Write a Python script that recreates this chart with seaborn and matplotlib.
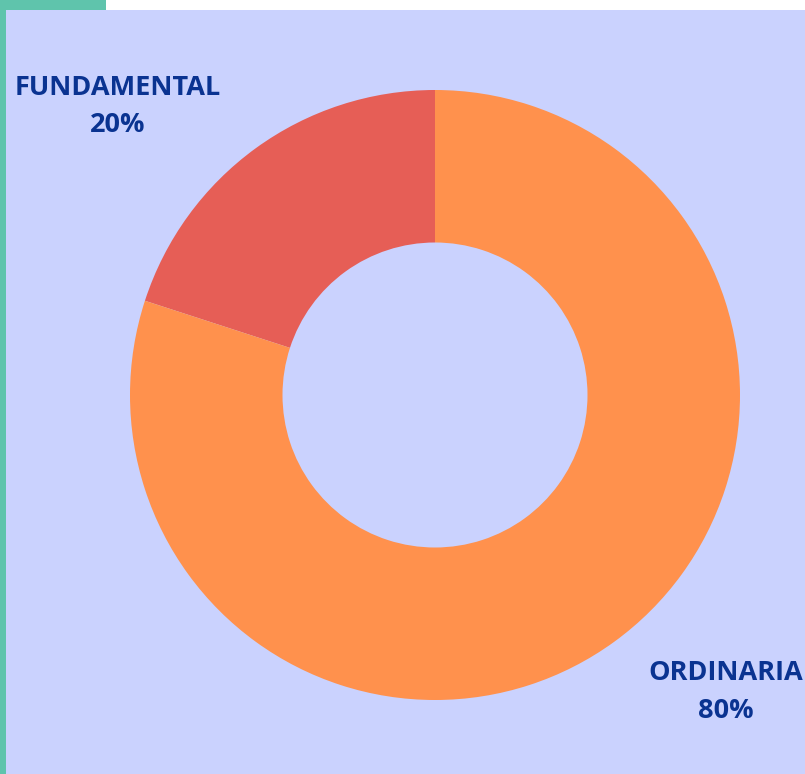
import matplotlib
matplotlib.use("Agg")
import matplotlib.pyplot as plt
import seaborn as sns
from matplotlib.patches import Rectangle

# Distribución por tipo
labels = ['FUNDAMENTAL', 'ORDINARIA']
values = [20, 80]
colors = ['#E65E56', '#FF914D']

sns.set_theme(style='white')
plt.rcParams['font.family'] = ['Open Sans', 'DejaVu Sans']

W, H = 805, 774
fig = plt.figure(figsize=(W / 100, H / 100), dpi=100, facecolor='white')

# background panels (pixel coords, from top)
bg = fig.add_axes([0, 0, 1, 1], zorder=-1)
bg.set_xlim(0, W)
bg.set_ylim(H, 0)
bg.axis('off')
bg.add_patch(Rectangle((0, 0), 106, H, facecolor='#5FC4AC', edgecolor='none'))
bg.add_patch(Rectangle((6, 10), W - 6, H - 10, facecolor='#CAD2FE', edgecolor='none'))

cx, cy, r = 435, 395, 305
ax = fig.add_axes([(cx - r) / W, (H - cy - r) / H, 2 * r / W, 2 * r / H], zorder=1)
ax.set_facecolor('none')
ax.pie(values, colors=colors, startangle=90, counterclock=True, radius=1,
       wedgeprops=dict(width=0.5, edgecolor='none'))
ax.set_xlim(-1, 1)
ax.set_ylim(-1, 1)
ax.axis('off')

txt = dict(color='#0A3391', fontsize=19.5, fontweight='bold', ha='center', va='center')
bg.text(118, 88, labels[0], **txt)
bg.text(118, 125, f'{values[0]}%', **txt)
bg.text(726, 673, labels[1], **txt)
bg.text(726, 711, f'{values[1]}%', **txt)

fig.savefig('out.png', dpi=100)
